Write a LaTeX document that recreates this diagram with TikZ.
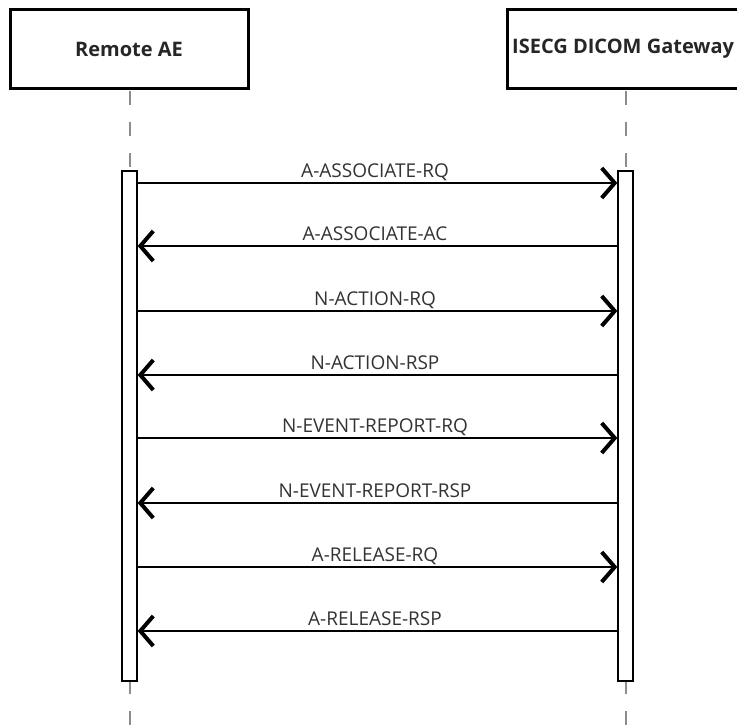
\documentclass[tikz,border=0pt]{standalone}
\usepackage{fontspec}
\setmainfont{Open Sans}
\usetikzlibrary{arrows.meta}
\begin{document}
\begin{tikzpicture}[x=1pt,y=-1pt,
  actor/.style={draw=black,line width=3pt,fill=white,minimum width=238pt,minimum height=79pt,inner sep=0pt},
  hdr/.style={font=\fontsize{20}{23}\selectfont\bfseries,text=black!85},
  lifeline/.style={draw=black!45,line width=1.6pt,dash pattern=on 14pt off 17pt},
  actbar/.style={draw=black,line width=1.3pt,fill=white,minimum width=15pt,minimum height=510pt,inner sep=0pt},
  msg/.style={line width=2.5pt,-{Straight Barb[length=13pt,width=30pt,line width=4pt]}},
  lbl/.style={font=\fontsize{19}{21}\selectfont,text=black!80,inner sep=0pt,anchor=base}]
\useasboundingbox (0,0) rectangle (737,725);
\clip (0,0) rectangle (737,725);
\fill[white] (0,0) rectangle (737,725);
% actors
\node[actor,hdr] (ae) at (129,49.5) {Remote AE};
\node[actor,minimum width=260pt] (gw) at (637,49) {};
\node[hdr,anchor=west,inner sep=0pt] (gwt) at (512,49) {ISECG DICOM Gateway};
% lifelines
\coordinate (aeEnd) at (130,725);
\coordinate (gwEnd) at (626,725);
\coordinate (aeTop) at (130,91);
\coordinate (gwTop) at (626,91);
\draw[lifeline] (aeTop) -- (aeEnd);
\draw[lifeline] (gwTop) -- (gwEnd);
% activation bars
\node[actbar] (ba) at (129.5,426) {};
\node[actbar] (bg) at (625.5,426) {};
% messages
\foreach \y/\t/\d in {183/A-ASSOCIATE-RQ/r,246/A-ASSOCIATE-AC/l,311/N-ACTION-RQ/r,375/N-ACTION-RSP/l,438/N-EVENT-REPORT-RQ/r,503/N-EVENT-REPORT-RSP/l,567/A-RELEASE-RQ/r,631/A-RELEASE-RSP/l}{
  \coordinate (L) at (ba.east |- 0,\y);
  \coordinate (R) at (bg.west |- 0,\y);
  \if\d r
    \draw[msg] (L) -- (R);
  \else
    \draw[msg] (R) -- (L);
  \fi
  \node[lbl] at (375,\y-6) {\t};
}
\end{tikzpicture}
\end{document}
